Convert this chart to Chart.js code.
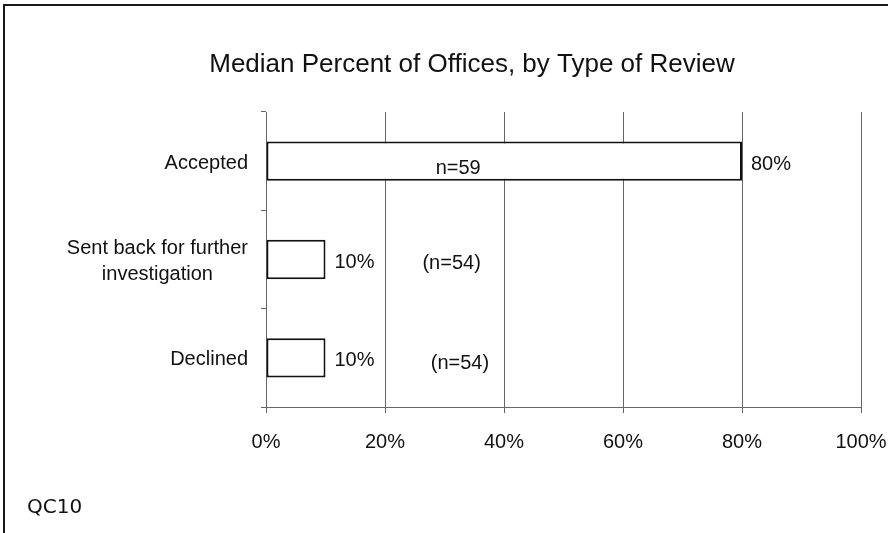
<!DOCTYPE html>
<html>
<head>
<meta charset="utf-8">
<script src="https://cdn.jsdelivr.net/npm/chart.js@4.4.1/dist/chart.umd.min.js"></script>
<style>
  html, body { margin: 0; padding: 0; background: #fff; }
  #wrap { position: relative; width: 888px; height: 533px; overflow: hidden; }
  #frame { position: absolute; left: 3px; top: 4px; width: 900px; height: 540px;
           border-top: 2px solid #1a1a1a; border-left: 2px solid #1a1a1a; }
  #note { position: absolute; left: 27px; top: 494px; font: 20px "DejaVu Sans", sans-serif; color: #111; }
  canvas { position: absolute; left: 0; top: 0; }
</style>
</head>
<body>
<div id="wrap">
  <canvas id="myChart" width="888" height="533"></canvas>
  <div id="frame"></div>
  <div id="note">QC10</div>
</div>
<script>
// data
const categories = ["Accepted", ["Sent back for further", "investigation"], "Declined"];
const medianPct = [80, 10, 10];
const valueLabels = ["80%", "10%", "10%"];
const sampleLabels = ["n=59", "(n=54)", "(n=54)"];
const xTickStep = 20;

const titleText = "Median Percent of Offices, by Type of Review";
const font = '"Liberation Sans", Arial, sans-serif';

// draws the title, the category labels and the text next to the bars
const labelPlugin = {
  id: "labels",
  afterDraw(chart, args, opts) {
    const ctx = chart.ctx;
    const x = chart.scales.x;
    const y = chart.scales.y;
    ctx.save();
    ctx.fillStyle = "#111";

    // title
    ctx.font = "26px " + font;
    ctx.textAlign = "center";
    ctx.textBaseline = "alphabetic";
    ctx.fillText(titleText, opts.titleX, opts.titleY);

    ctx.font = "20px " + font;
    ctx.textBaseline = "middle";

    // category labels, lines centered in a block that ends at the axis
    categories.forEach(function (c, i) {
      const lines = Array.isArray(c) ? c : [c];
      const widest = Math.max.apply(null, lines.map(l => ctx.measureText(l).width));
      const cx = chart.chartArea.left - 18 - widest / 2;
      const cy = y.getPixelForValue(i);
      const lh = 26;
      lines.forEach(function (l, k) {
        ctx.textAlign = "center";
        ctx.fillText(l, cx, cy + (k - (lines.length - 1) / 2) * lh + 2);
      });
    });

    // value at the bar end
    medianPct.forEach(function (v, i) {
      ctx.textAlign = "left";
      ctx.fillText(valueLabels[i], x.getPixelForValue(v) + 9, y.getPixelForValue(i) + 3);
    });

    // sample sizes
    sampleLabels.forEach(function (s, i) {
      ctx.textAlign = "center";
      ctx.fillText(s, x.getPixelForValue(opts.sampleAt[i]), y.getPixelForValue(i) + opts.sampleDy[i]);
    });

    ctx.restore();
  }
};

const ctx = document.getElementById("myChart").getContext("2d");

const myChart = new Chart(ctx, {
  type: "bar",
  data: {
    labels: categories,
    datasets: [{
      data: medianPct,
      backgroundColor: "#fff",
      borderColor: "#111",
      borderWidth: 2,
      borderSkipped: false,
      barPercentage: 0.4,
      categoryPercentage: 1
    }]
  },
  options: {
    indexAxis: "y",
    responsive: false,
    animation: false,
    layout: { padding: { top: 112, right: 27, bottom: 0, left: 0 } },
    scales: {
      x: {
        min: 0,
        max: 100,
        grid: { color: "#666", lineWidth: 1, tickLength: 6 },
        border: { color: "#666", width: 1 },
        ticks: {
          stepSize: xTickStep,
          padding: 17,
          color: "#111",
          font: { family: font, size: 20 },
          callback: v => v + "%"
        },
        afterFit: function (scale) {
          scale.height = 126;
          // let "100%" run off the edge like in the original
          scale.paddingLeft = 0;
          scale.paddingRight = 0;
        }
      },
      y: {
        grid: { drawOnChartArea: false, color: "#666", tickLength: 5, offset: true },
        border: { color: "#666", width: 1 },
        ticks: { display: false },
        afterFit: function (scale) { scale.width = 266; }
      }
    },
    plugins: {
      legend: { display: false },
      tooltip: { enabled: false },
      labels: {
        titleX: 472,
        titleY: 72,
        sampleAt: [32.3, 31.2, 32.6],
        sampleDy: [7, 4, 6]
      }
    }
  },
  plugins: [labelPlugin]
});
</script>
</body>
</html>
